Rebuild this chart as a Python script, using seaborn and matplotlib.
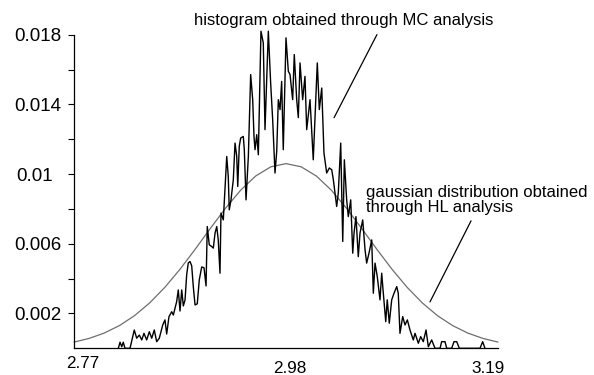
import matplotlib
matplotlib.use("Agg")
import matplotlib.pyplot as plt
from matplotlib.transforms import ScaledTranslation
import numpy as np
import pandas as pd
import seaborn as sns

# ---- data ----
hist_x = [
    2.8139, 2.8156, 2.8173, 2.8188, 2.8205, 2.8255, 2.8297, 2.8321, 2.8347, 2.8371,
    2.8393, 2.8420, 2.8446, 2.8470, 2.8495, 2.8519, 2.8545, 2.8579, 2.8601, 2.8618,
    2.8641, 2.8668, 2.8684, 2.8717, 2.8733, 2.8750, 2.8767, 2.8783, 2.8800, 2.8816,
    2.8832, 2.8849, 2.8866, 2.8882, 2.8899, 2.8921, 2.8941, 2.8965, 2.8988, 2.9008,
    2.9020, 2.9040, 2.9064, 2.9080, 2.9097, 2.9114, 2.9129, 2.9146, 2.9156, 2.9179,
    2.9213, 2.9228, 2.9238, 2.9255, 2.9278, 2.9295, 2.9312, 2.9322, 2.9337, 2.9351,
    2.9377, 2.9387, 2.9404, 2.9427, 2.9450, 2.9470, 2.9483, 2.9493, 2.9510, 2.9526,
    2.9552, 2.9575, 2.9592, 2.9625, 2.9648, 2.9668, 2.9691, 2.9708, 2.9724, 2.9741,
    2.9757, 2.9773, 2.9800, 2.9823, 2.9840, 2.9866, 2.9882, 2.9906, 2.9922, 2.9939,
    2.9965, 2.9988, 3.0005, 3.0038, 3.0070, 3.0110, 3.0130, 3.0154, 3.0176, 3.0203,
    3.0229, 3.0253, 3.0269, 3.0302, 3.0318, 3.0342, 3.0362, 3.0378, 3.0401, 3.0417,
    3.0441, 3.0461, 3.0474, 3.0493, 3.0516, 3.0533, 3.0560, 3.0583, 3.0599, 3.0622,
    3.0649, 3.0665, 3.0682, 3.0704, 3.0731, 3.0748, 3.0764, 3.0788, 3.0803, 3.0823,
    3.0847, 3.0870, 3.0897, 3.0912, 3.0929, 3.0956, 3.0979, 3.1002, 3.1028, 3.1061,
    3.1078, 3.1111, 3.1134, 3.1160, 3.1187, 3.1210, 3.1243, 3.1276, 3.1326, 3.1342,
    3.1375, 3.1392, 3.1441, 3.1464, 3.1491, 3.1517, 3.1722, 3.1748, 3.1771,
]
hist_y = [
    0.0, 0.00035, 0.00009, 0.00035, 0.0, 0.0, 0.00105, 0.00058, 0.00076, 0.00048,
    0.00086, 0.00048, 0.00095, 0.00058, 0.00105, 0.00038, 0.00058, 0.00134, 0.00163, 0.00082,
    0.00182, 0.00210, 0.00191, 0.00268, 0.00335, 0.00214, 0.00335, 0.00243, 0.00278, 0.00421,
    0.00490, 0.00498, 0.00473, 0.00352, 0.00249, 0.00255, 0.00393, 0.00467, 0.00462, 0.00358,
    0.00699, 0.00594, 0.00584, 0.00575, 0.00661, 0.00699, 0.00622, 0.00431, 0.00776, 0.00737,
    0.01101, 0.00986, 0.00795, 0.00852, 0.00967, 0.01178, 0.01101, 0.00929, 0.01159, 0.01207,
    0.01216, 0.01140, 0.00852, 0.01101, 0.01571, 0.01427, 0.01216, 0.01140, 0.01226, 0.01111,
    0.01820, 0.01753, 0.01255, 0.01820, 0.01523, 0.01312, 0.01006, 0.01130, 0.01427, 0.01370,
    0.01532, 0.01140, 0.01782, 0.01590, 0.01571, 0.01427, 0.01686, 0.01427, 0.01324, 0.01638,
    0.01427, 0.01561, 0.01255, 0.01427, 0.01082, 0.01638, 0.01370, 0.01494, 0.01121, 0.01006,
    0.01035, 0.01025, 0.00967, 0.00814, 0.00891, 0.01178, 0.00613, 0.01082, 0.00852, 0.00756,
    0.00852, 0.00546, 0.00661, 0.00756, 0.00526, 0.00661, 0.00737, 0.00565, 0.00489, 0.00546,
    0.00622, 0.00316, 0.00489, 0.00412, 0.00278, 0.00431, 0.00316, 0.00153, 0.00278, 0.00144,
    0.00278, 0.00316, 0.00354, 0.00316, 0.00086, 0.00182, 0.00134, 0.00163, 0.00105, 0.00048,
    0.00086, 0.00029, 0.00067, 0.00038, 0.00105, 0.00009, 0.00048, 0.0, 0.0, 0.00038,
    0.00038, 0.0, 0.0, 0.00038, 0.00038, 0.0, 0.0, 0.00038, 0.0,
]

gauss_x = [2.770, 2.785, 2.800, 2.815, 2.830, 2.845, 2.860, 2.875, 2.890, 2.905,
           2.920, 2.935, 2.950, 2.965, 2.980, 2.995, 3.010, 3.025, 3.040, 3.055,
           3.070, 3.085, 3.100, 3.115, 3.130, 3.145, 3.160, 3.175, 3.190]
gauss_y = [0.000356, 0.000568, 0.000876, 0.001304, 0.001876, 0.002607, 0.003499,
           0.004537, 0.005683, 0.006876, 0.008035, 0.009070, 0.009891, 0.010418,
           0.010600, 0.010418, 0.009891, 0.009070, 0.008035, 0.006876, 0.005683,
           0.004537, 0.003499, 0.002607, 0.001876, 0.001304, 0.000876, 0.000568,
           0.000356]

x_ticks = [2.77, 2.98, 3.19]
x_tick_labels = ["2.77", "2.98", "3.19"]
y_major = [0.002, 0.006, 0.010, 0.014, 0.018]
y_major_labels = ["0.002", "0.006", "0.01", "0.014", "0.018"]
y_minor = [0.004, 0.008, 0.012, 0.016]

label_mc = "histogram obtained through MC analysis"
label_hl = "gaussian distribution obtained\nthrough HL analysis"

# ---- style ----
sns.set_theme(style="white")
plt.rcParams["font.family"] = ["Liberation Sans", "DejaVu Sans"]

fig = plt.figure(figsize=(5.94, 3.75), dpi=100)
ax = fig.add_axes([74 / 594, 1 - 348.3 / 375, (498 - 74) / 594, (348.3 - 34.7) / 375])

hist_df = pd.DataFrame({"x": hist_x, "y": hist_y})
gauss_df = pd.DataFrame({"x": gauss_x, "y": gauss_y})

sns.lineplot(data=gauss_df, x="x", y="y", ax=ax, color="#6e6e6e", linewidth=0.9,
             sort=False, estimator=None)
sns.lineplot(data=hist_df, x="x", y="y", ax=ax, color="black", linewidth=1.0,
             sort=False, estimator=None)
for ln in ax.lines:
    ln.set_clip_on(False)

ax.set_xlim(2.77, 3.19)
ax.set_ylim(0, 0.018)
ax.set_xlabel("")
ax.set_ylabel("")

for s in ["top", "right"]:
    ax.spines[s].set_visible(False)
for s in ["left", "bottom"]:
    ax.spines[s].set_color("black")
    ax.spines[s].set_linewidth(0.9)

ax.set_yticks(y_major)
ax.set_yticklabels(y_major_labels)
ax.set_yticks(y_minor, minor=True)
ax.tick_params(axis="y", which="both", direction="out", length=4.5, width=0.8,
               color="black", left=True, labelsize=13.5, pad=4.5, labelcolor="black")
ax.set_xticks(x_ticks)
ax.set_xticklabels(x_tick_labels)
ax.tick_params(axis="x", which="both", length=0, labelsize=12.3, pad=9.5,
               labelcolor="black")
ax.grid(False)

# nudge individual tick labels to their places in the reference
x_off = [(8.7, 5.0), (4.0, 0.0), (-10.0, 0.0)]
for lab, (dx, dy) in zip(ax.get_xticklabels(), x_off):
    lab.set_transform(lab.get_transform() + ScaledTranslation(dx / 100, dy / 100, fig.dpi_scale_trans))
for lab in ax.get_yticklabels():
    if lab.get_text() == "0.01":
        lab.set_transform(lab.get_transform() + ScaledTranslation(-8.5 / 100, 0, fig.dpi_scale_trans))

# annotations
ax.text(2.8889, 0.01881, label_mc, fontsize=12, ha="left", va="center", color="black")
ax.plot([3.0701, 3.0276], [0.018006, 0.013236], color="black", linewidth=0.9, clip_on=False)
ax.text(3.0593, 0.008500, label_hl, fontsize=12, ha="left", va="center",
        color="black", linespacing=1.0)
ax.plot([3.1633, 3.1226], [0.007316, 0.002661], color="black", linewidth=0.9, clip_on=False)

fig.savefig("out.png", dpi=100, facecolor="white")
